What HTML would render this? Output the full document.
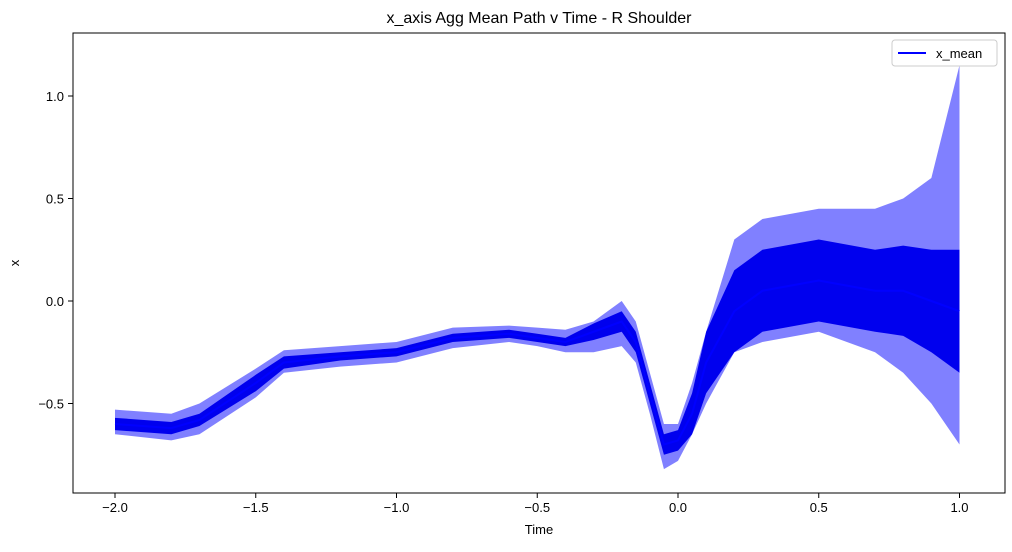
<!DOCTYPE html>
<html><head><meta charset="utf-8"><style>
body{margin:0;background:#fff;font-family:"Liberation Sans",sans-serif;}
svg text{font-family:"Liberation Sans",sans-serif;fill:#000;}
</style></head><body>
<svg id="chart" width="1012" height="547">
<text x="539" y="23" font-size="16" text-anchor="middle">x_axis Agg Mean Path v Time - R Shoulder</text>
<g id="marks"></g>
<rect x="73" y="33" width="932" height="460" fill="none" stroke="#000" stroke-width="1"/>
<g id="xticks"></g><g id="yticks"></g>
<text x="539" y="534" font-size="13" text-anchor="middle">Time</text>
<text x="19" y="263" font-size="13" text-anchor="middle" transform="rotate(-90 19 263)">x</text>
<g>
<rect x="892" y="40" width="105" height="26" rx="3" fill="#fff" stroke="#ccc"/>
<line x1="898" y1="53" x2="926" y2="53" stroke="#0000ff" stroke-width="2"/>
<text x="936" y="58" font-size="13">x_mean</text>
</g>
</svg>
<script>
const times=[-2,-1.8,-1.7,-1.5,-1.4,-1.2,-1,-0.8,-0.6,-0.5,-0.4,-0.3,-0.2,-0.15,-0.1,-0.05,0,0.05,0.1,0.2,0.3,0.5,0.7,0.8,0.9,1.0];
const meanVals=[-0.6,-0.62,-0.58,-0.4,-0.3,-0.27,-0.25,-0.18,-0.16,-0.18,-0.2,-0.15,-0.1,-0.2,-0.45,-0.7,-0.68,-0.55,-0.3,-0.05,0.05,0.1,0.05,0.05,0.0,-0.05];
const upperVals=[-0.53,-0.55,-0.5,-0.33,-0.24,-0.22,-0.2,-0.13,-0.12,-0.13,-0.14,-0.1,0.0,-0.1,-0.35,-0.6,-0.6,-0.4,-0.15,0.3,0.4,0.45,0.45,0.5,0.6,1.15];
const lowerVals=[-0.65,-0.68,-0.65,-0.47,-0.35,-0.32,-0.3,-0.23,-0.2,-0.22,-0.25,-0.25,-0.22,-0.3,-0.55,-0.82,-0.78,-0.65,-0.5,-0.25,-0.2,-0.15,-0.25,-0.35,-0.5,-0.7];
const innerVals=[0.03,0.03,0.03,0.04,0.03,0.02,0.02,0.02,0.02,0.02,0.02,0.04,0.05,0.05,0.05,0.05,0.05,0.1,0.15,0.2,0.2,0.2,0.2,0.22,0.25,0.3];
const xTickVals=[-2,-1.5,-1,-0.5,0,0.5,1];
const xTickLabels=["\u22122.0","\u22121.5","\u22121.0","\u22120.5","0.0","0.5","1.0"];
const yTickVals=[-0.5,0,0.5,1];
const yTickLabels=["\u22120.5","0.0","0.5","1.0"];
const NS="http://www.w3.org/2000/svg";
const xs=t=>678+t*281.5;
const ys=v=>301-v*205;
function mk(tag,attrs,parent){const e=document.createElementNS(NS,tag);for(const k in attrs)e.setAttribute(k,attrs[k]);parent.appendChild(e);return e;}
const marks=document.getElementById('marks');
function band(lo,hi){let d='';times.forEach((t,i)=>{d+=(i?'L':'M')+xs(t)+','+ys(hi[i]);});for(let i=times.length-1;i>=0;i--)d+='L'+xs(times[i])+','+ys(lo[i]);return d+'Z';}
const b1=mk('path',{d:band(lowerVals,upperVals),fill:'rgba(60,60,255,0.65)',stroke:'none'},marks);


const lo2=meanVals.map((m,i)=>m-innerVals[i]),hi2=meanVals.map((m,i)=>m+innerVals[i]);
const b2=mk('path',{d:band(lo2,hi2),fill:'#0000ee',stroke:'none'},marks);


let d='';times.forEach((t,i)=>{d+=(i?'L':'M')+xs(t)+','+ys(meanVals[i]);});
const ml=mk('path',{d:d,fill:'none',stroke:'#0000ff','stroke-width':2},marks);


const xt=document.getElementById('xticks');
xTickVals.forEach((v,i)=>{const x=xs(v);
const l=mk('line',{x1:x,x2:x,y1:493,y2:498,stroke:'#000'},xt);


const tx=mk('text',{x:x,y:512,'font-size':13,'text-anchor':'middle'},xt);tx.textContent=xTickLabels[i];

});
const yt=document.getElementById('yticks');
yTickVals.forEach((v,i)=>{const y=ys(v);
const l=mk('line',{x1:68,x2:73,y1:y,y2:y,stroke:'#000'},yt);


const tx=mk('text',{x:64,y:y+5,'font-size':13,'text-anchor':'end'},yt);tx.textContent=yTickLabels[i];

});
</script>
</body></html>
